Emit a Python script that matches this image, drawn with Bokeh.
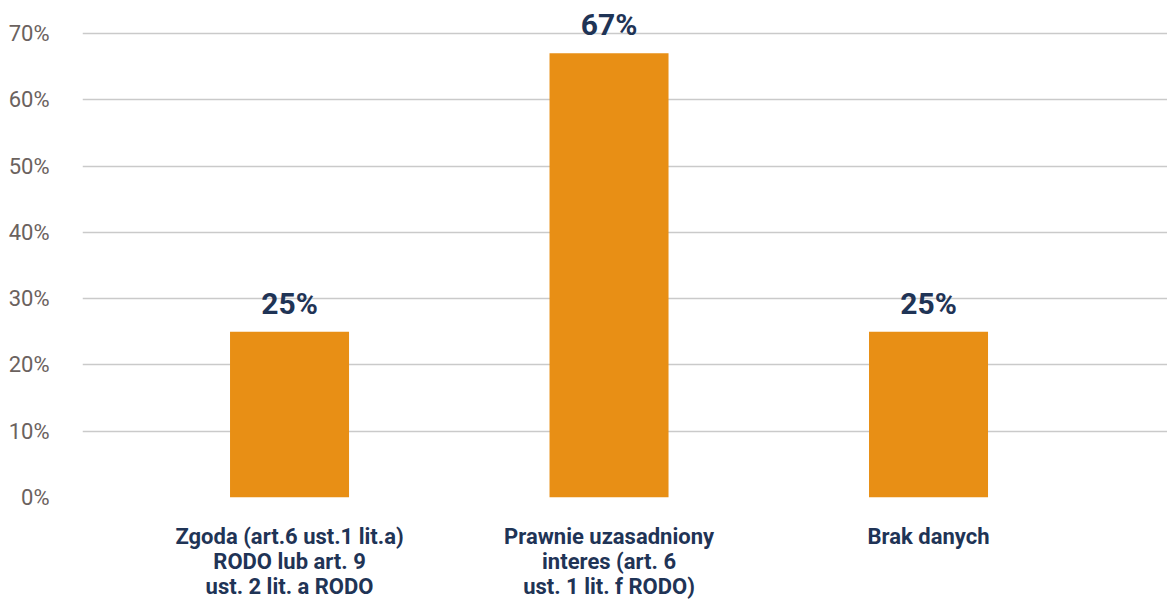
from bokeh.plotting import figure
from bokeh.models import ColumnDataSource, FixedTicker, Range1d, PrintfTickFormatter
from bokeh.core.properties import value
from bokeh.embed import file_html
from bokeh.resources import INLINE

# Legal basis categories and their shares (%)
categories = [
    "Zgoda (art.6 ust.1 lit.a)\nRODO lub art. 9\nust. 2 lit. a RODO",
    "Prawnie uzasadniony\ninteres (art. 6\nust. 1 lit. f RODO)",
    "Brak danych",
]
shares = [25, 67, 25]
y_ticks = [0, 10, 20, 30, 40, 50, 60, 70]

BAR = "#E88F15"
NAVY = "#1F3456"
GREY_TEXT = "#6B625E"
GRID = "#CACACA"

xs = list(range(len(categories)))
source = ColumnDataSource(dict(
    x=xs,
    share=shares,
    label=[f"{v}%" for v in shares],
))

p = figure(
    width=1167, height=601,
    x_range=Range1d(-0.648, 2.748),
    y_range=Range1d(0, 74.97),
    output_backend="svg", toolbar_location=None,
    min_border_left=82, min_border_right=0,
    min_border_top=0, min_border_bottom=103,
)
p.outline_line_color = None
p.background_fill_color = "white"
p.border_fill_color = "white"

p.vbar(x="x", top="share", width=0.3725, bottom=0, source=source,
       fill_color=BAR, line_color=None)

p.text(x="x", y="share", text="label", source=source,
       text_align="center", text_baseline="bottom", y_offset=-11,
       text_font=value("Roboto"), text_font_style="bold",
       text_font_size="30px", text_color=NAVY)

# y axis
p.yaxis.ticker = FixedTicker(ticks=y_ticks)
p.yaxis.formatter = PrintfTickFormatter(format="%d%%")
p.yaxis.axis_line_color = None
p.yaxis.major_tick_line_color = None
p.yaxis.minor_tick_line_color = None
p.yaxis.major_label_text_font = "Roboto"
p.yaxis.major_label_text_font_size = "22px"
p.yaxis.major_label_text_color = GREY_TEXT
p.yaxis.major_label_standoff = 27

# x axis
p.xaxis.ticker = FixedTicker(ticks=xs)
p.xaxis.major_label_overrides = {i: c for i, c in zip(xs, categories)}
p.xaxis.axis_line_color = None
p.xaxis.major_tick_line_color = None
p.xaxis.minor_tick_line_color = None
p.xaxis.major_label_text_font = "Roboto"
p.xaxis.major_label_text_font_style = "bold"
p.xaxis.major_label_text_font_size = "22px"
p.xaxis.major_label_text_color = NAVY
p.xaxis.major_label_text_line_height = 1.0
p.xaxis.major_label_standoff = 20

p.xgrid.grid_line_color = None
p.ygrid.ticker = FixedTicker(ticks=y_ticks)
p.ygrid.grid_line_color = GRID
p.ygrid.grid_line_width = 1.5

open("out.html", "w").write(file_html(p, INLINE))
